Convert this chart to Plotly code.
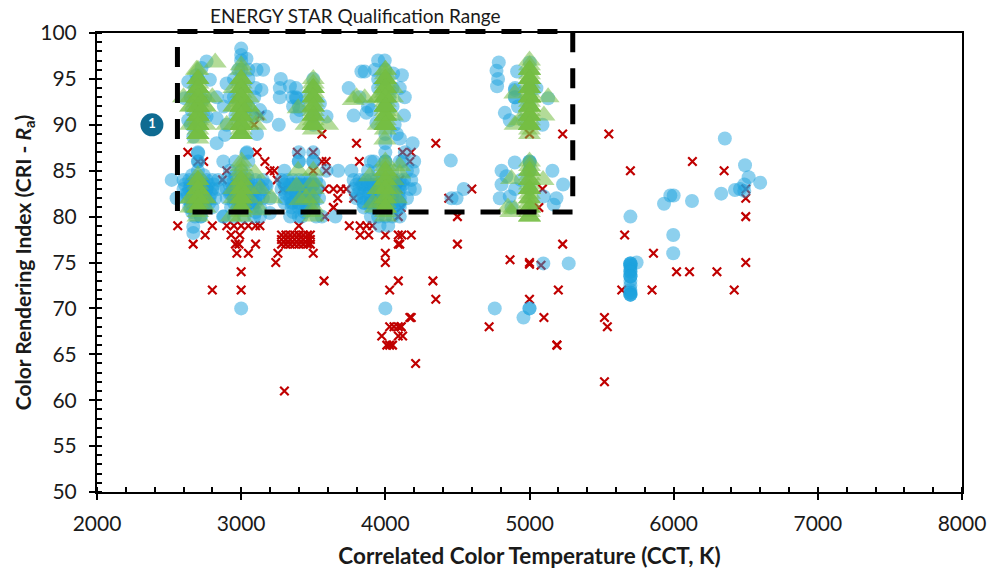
import plotly.graph_objects as go

red_cct = [2560,2800,2750,2667,2800,3000,3000,2970,3050,3100,2930,2990,2985,2960,2900,2950,3000,3050,3100,3130,
 3255,3240,3500,3575,3280,3310,3340,3370,3400,3430,3460,3480,3280,3310,3340,3370,3400,3430,3460,3480,3280,3310,3340,3370,3400,3430,3460,3480,
 3300,3400,3400,3640,3750,3825,3870,3910,3825,3885,4000,4000,4000,4030,4090,4090,4090,4030,4060,4090,4110,3975,4030,4010,4050,4090,
 4180,4115,4100,4500,4500,4330,4350,4170,4180,4110,4120,4210,4865,5000,5000,5080,5230,5660,5860,6020,6110,6300,6500,6500,6500,6420,5850,5640,5200,5000,5100,5520,5540,4720,5190,5190,5520,
 4350,5000,5230,5550,6130,5700,4600,4440,5090,5065,6350,6500,
 2630,2700,2740,3130,3090,3560,3800,3820,3390,3500,3110,3165,3200,3230,3590,3560,3250,3290,3640,3690,3730,3670,3640,3580,3580,3780,2870,2900,3500,3590,
 4120,4180,4170,4100,4090,4110,4090]
red_cri = [79,79,78,77,72,74,72,76,76,77,78,78,77,77,79,79,79,79,79,79,
 76,75,76,73,77,77,77,77,77,77,77,77,77.5,77.5,77.5,77.5,77.5,77.5,77.5,77.5,78,78,78,78,78,78,78,78,
 61,79,78,81,79,79,79,79,78,78,78,76,75,72,73,78,77,68,68,68,68,67,66,66,66,67,
 78,78,77,80,77,73,71,69,69,68,67,64,75.3,75,74.8,74.7,77,78,76,74,74,74,75,80,82,72,72,72,72,71,69,69,68,68,66,66,62,
 88,89,89,89,86,85,83,82,83,81,85,83,
 87,86,86,91,90,89,88,86,87,87,87,86,85,85,86,86,84,83,83,83,83,82,81,83,80,82,84,85,85,85,
 87,87,86,84,83,81,80]

blue_cct = [2760,2725,2690,2633,2610,2680,2783,2830,2633,2668,2714,2656,2737,2760,2700,2700,2650,2740,
 3000,3000,3037,3107,3153,2899,3141,2880,3176,2887,2830,2830,3130,2980,2950,3050,3000,3090,2920,2960,3030,3070,3110,2900,
 3275,3268,3338,3268,3356,3384,3384,3500,3546,3592,3261,3407,3500,3450,3360,3500,
 3746,3834,3857,3996,3927,3904,3938,3869,4054,4100,4000,4000,3950,4030,4135,4115,4130,4065,3820,3880,3780,
 4787,4771,4782,4775,4914,5002,4898,4898,5129,5048,4829,4863,5090,4956,5000,4920,
 4898,5002,5159,4806,5233,4806,4840,4794,4863,5099,5187,5168,4875,4454,4544,4494,4459,4189,4101,4080,4136,4205,4170,4940,5000,5000,
 5700,5997,5997,5743,5700,5700,5700,5700,5700,5700,5700,5700,5700,5700,4759,5000,5000,4958,5096,5272,5933,5977,6127,
 6355,6495,6520,6600,6425,6460,6490,6490,6330,6000,3000,4000,
 2518,2552,2668,2668,2702,2702,2876,2922,3037,3049,3176,3199,3130,2874,3654,3673,3765,3592,
 2600,2640,2680,2720,2760,2800,2840,2600,2640,2680,2720,2760,2800,2840,2620,2660,2700,2740,2780,2820,2650,2700,2750,2800,2680,2720,
 2900,2950,3000,3050,3100,3150,2900,2950,3000,3050,3100,3150,2900,2950,3000,3050,3100,3150,3200,2930,2980,3030,3080,3130,2880,2950,3020,3090,
 3280,3320,3360,3400,3440,3480,3520,3280,3320,3360,3400,3440,3480,3520,3300,3340,3380,3420,3460,3500,3540,3350,3400,3450,3500,3300,3400,3500,3420,3340,3520,3560,
 3780,3820,3860,3900,3940,3980,4020,4060,4100,3780,3820,3860,3900,3940,3980,4020,4060,4100,3800,3850,3900,3950,4000,4050,4100,4150,3850,3900,3950,4000,4050,4100,3900,3950,4000,4050,4100,3880,3920,4000,4120,4150,4180,4190,4200,4130,4080,3960,4020,
 # repeated fixtures in the dense clusters
 2700,2660,2740,2620,2780,2700,2660,2740,2700,2640,2760,2700,2660,2740,2700,2680,2720,2700,2700,
 3000,2960,3040,2920,3080,3000,2960,3040,3120,3000,2940,3060,3000,2960,3040,3100,3000,2980,3020,
 3300,3350,3400,3450,3500,3300,3350,3400,3450,3500,3380,3420,3360,3440,3400,3400,3400,3500,3500,
 3850,3900,3950,4000,4050,4100,3850,3900,3950,4000,4050,4100,3950,4000,4050,3950,4000,4050,4000,4000,4000,4000,3900,4100,
 2700,2700,2650,2750,3000,3000,3050,3100,2950,3050,3100,3000,3380,3380,3400,3500,3500,4000,4000,3950,4050,4000,3950,4050,5000,5000,5000,4900,4900,5000,5000,5000,4900,
 5700,5700,5700,5700,5700,5700,5700,5700,5700,5700,
 2610,2650,2690,2730,2770,2810,2630,2670,2710,2750,2790,2650,2700,2750,
 2920,2970,3020,3070,3120,3170,2930,2980,3030,3080,3130,2950,3000,3050,3100,
 3300,3340,3380,3420,3460,3500,3540,3310,3350,3390,3430,3470,3510,3360,3400,3440,3480,
 3800,3840,3880,3920,3960,4000,4040,4080,4120,3810,3850,3890,3930,3970,4010,4050,4090,3850,3900,3950,4000,4050,4100]
blue_cri = [96.9,96.2,95.4,94.7,92.9,93.8,94.9,93,90.5,88.7,89.8,91.6,92.7,90.9,95,92,90,91,
 98.3,97.6,97.2,96,96,94.5,93.8,92,90.9,88.9,88,90.7,91.6,96,95,95,94,93,93,91,92,91,89,90,
 95,94,94.2,93,93,92.9,90.9,95,92.3,90.9,90,91.6,94,93,92,91,
 94,95.8,95.8,97,96,91.6,90.2,91.3,95.6,94,95,92,94,93,93,95.4,91,90,93,92,91,
 96.8,95.9,95,94.2,95.8,96.8,93.8,93,92.9,94,91.3,90.5,90,90.5,94,92,
 85.9,85.9,85,85,83.5,83.5,84.4,82,82.2,82.2,82,81.3,81,86.1,83,82,82,88,88.5,89,87,83,83,84,86,83,
 80,78,76,75,74.9,74.7,74.5,74,73.5,73,72.5,72,71.7,71.5,70,70,70,69,74.9,74.9,81.4,82.3,81.7,
 88.5,85.6,84.3,83.7,82.9,83,83.5,82.8,82.5,82.3,70,70,
 84,82,78.9,78.2,86.9,86,86,85,86.9,86,83.3,80.4,80,80,80,85,85,85,
 84,84,84,84,84,84,84,83,83,83,83,83,83,83,82,82,82,82,82,82,81,81,81,81,80,80,
 84,84,84,84,84,84,83,83,83,83,83,83,82,82,82,82,82,82,82,81,81,81,81,81,80,80,80,80,
 84,84,84,84,84,84,84,83,83,83,83,83,83,83,82,82,82,82,82,82,82,81,81,81,81,85,86,86,80,80,80,80,
 84,84,84,84,84,84,84,84,84,83,83,83,83,83,83,83,83,83,82,82,82,82,82,82,82,82,81,81,81,81,81,81,80,80,80,80,80,85,86,86,86,85,84,85,86,84,81,79,79,
 81.5,82.5,83.5,82.5,81.5,83.5,84.5,84.5,82,81,83,82,80.5,83,86,82,80,85,87,
 81.5,82.5,83.5,82.5,81.5,83.5,84.5,84.5,82,81,83,82,85,86,87,80.5,84,82,81.5,
 81.5,81.5,81.5,81.5,81.5,83.5,83.5,83.5,83.5,83.5,82.5,82.5,80.5,80.5,80,86,87,86,87,
 81.5,81.5,81.5,81.5,81.5,81.5,83.5,83.5,83.5,83.5,83.5,83.5,82.5,82.5,82.5,85,85,85,86,87,88,89,86,86,
 95,92,93,93,96,97,96,94,93,92,91,90,93,94,92,91,90,95,96,97,94,92,95,92,94,93,92,93,94,85,85,86,83,
 74.9,74.9,74.7,74.2,74,73.5,73.5,71.7,71.5,71.5,
 83.5,83.5,83.5,83.5,83.5,83.5,82.5,82.5,82.5,82.5,82.5,81.5,81.5,81.5,
 83.5,83.5,83.5,83.5,83.5,83.5,82.5,82.5,82.5,82.5,82.5,81.5,81.5,81.5,81.5,
 83.5,83.5,83.5,83.5,83.5,83.5,83.5,82.5,82.5,82.5,82.5,82.5,82.5,81.5,81.5,81.5,81.5,
 83.5,83.5,83.5,83.5,83.5,83.5,83.5,83.5,83.5,82.5,82.5,82.5,82.5,82.5,82.5,82.5,82.5,81.5,81.5,81.5,81.5,81.5,81.5]

green_cct = [2700]*22 + [2650,2750,2650,2750,2650,2750,2600,2800,2820,2690] + \
 [2700]*10 + [2650,2750,2650,2750] + \
 [3000]*22 + [2950,3050,3100,2950,3050,3100,2900,3050,2950] + \
 [3000]*12 + [2950,3050,3003,3095,3130,3130,3210,2930] + \
 [3500]*14 + [3395,3600,3450] + [3395,3384,3407,3500,3500,3450,3500] + \
 [3857,3777,3800] + [4000]*19 + [3950,4050,3950,4050] + \
 [3996,3892,3915,4100,4054,4077,4100,3950,3930] + [4000]*14 + \
 [5000]*20 + [4898,5129,4933,4900,5100] + [5000]*14 + [4875,5094,4850,4898,4870] + \
 [2700]*24 + [3000]*24 + [3500]*14 + [4000]*24 + [5000]*27 + [2700]*12 + [3000]*12 + [4000]*12 + [5000]*12 + [3500]*4 + \
 [2950,3050,2950,3050,3950,4050,3950,4050,2650,2750,2650,2750]
green_cri = [88.5,89,89,89.5,90,90,90.5,91,91,91.5,92,92,92.5,93,93,93.5,94,94,94.5,95,95,96,92,92,93,93,90,90,93,93,96.8,96,
 80,80.5,81,81.5,82,82.5,83,83.5,84,84.5,82,82,81,81,
 89,89,89.5,90,90,90.5,91,91,91.5,92,92,92.5,93,93,93.5,94,94,94.5,95,95,96,96.5,90,90,90,92,92,91,90,93,94,
 80,80.5,81,81.5,82,82.5,83,83.5,84,84.5,85,85.5,82,82,86,84.7,83,80.7,82,80,
 89.5,90,90.5,91,91.5,92,92.5,93,93,93.5,94,94,94.5,95,91.8,90,90,85,83.3,81.8,83.8,80,82,80.5,
 92.9,92.7,93,89.5,90,90.5,91,91.5,92,92,92.5,93,93,93.5,94,94,94.5,95,95,95.5,96,96,90,91,93,94,
 88.4,84.4,81.5,85.5,84,82,84.7,83,81,80,80.5,81,81.5,82,82.5,83,83.5,84,84,84.5,85,85.5,86,
 89,89.5,90,90.5,91,91.5,92,92.5,93,93,93.5,94,94,94.5,95,95,95.5,96,96.5,97,93.4,93,90.5,90,91,
 80,80.5,81,81.5,82,82.5,83,83,83.5,84,84.5,85,85.5,86,84.1,84,81,80.8,80.5,
 # repeated fixtures: solid stacks
 89,90,91,92,93,94,95,89,90,91,92,93,94,95,89,90,91,92,93,94,90,92,93,91,
 89,90,91,92,93,94,95,89,90,91,92,93,94,95,89,90,91,92,93,94,90,92,93,91,
 90,91,92,93,94,90,91,92,93,94,90,92,91,93,
 90,91,92,93,94,95,90,91,92,93,94,95,90,91,92,93,94,95,90,92,93,91,92,94,
 90,91,92,93,94,95,96,90,91,92,93,94,95,96,90,91,92,93,94,95,96,90,91,93,92,94,95,
 81,82,83,84,81,82,83,84,81,82,83,82,
 81,82,83,84,81,82,83,84,81,82,83,82,
 81,82,83,84,85,81,82,83,84,85,81,83,
 81,82,83,84,85,81,82,83,84,85,80,80,
 81,82,83,85,
 92,92,83,83,93,93,83,83,92,92,82,82]

x_ticks = [2000,3000,4000,5000,6000,7000,8000]
y_ticks = [50,55,60,65,70,75,80,85,90,95,100]
box_cct = [2558,5300]
box_cri = [80.5,100.16]
marker_1 = ([2381],[90])

FONT = "Lato"
INK = "#1a1a1a"
fig = go.Figure()
fig.add_trace(go.Scatter(x=red_cct,y=red_cri,mode="markers",cliponaxis=False,
    marker=dict(symbol="x-thin",size=8.5,color="#C00000",line=dict(color="#C00000",width=2.2))))
fig.add_trace(go.Scatter(x=blue_cct,y=blue_cri,mode="markers",cliponaxis=False,
    marker=dict(symbol="circle",size=14,color="rgba(27,161,221,0.5)",line=dict(width=0))))
fig.add_trace(go.Scatter(x=green_cct,y=green_cri,mode="markers",cliponaxis=False,
    marker=dict(symbol="triangle-up",size=20,color="rgba(116,190,68,0.55)",line=dict(width=0))))
fig.add_trace(go.Scatter(x=marker_1[0],y=marker_1[1],mode="markers+text",text=["<b>1</b>"],
    textposition="middle center",textfont=dict(family=FONT,size=13,color="white"),
    marker=dict(size=23,color="#0F6B91",line=dict(width=0))))
fig.add_trace(go.Scatter(x=[None],y=[None],xaxis="x2",yaxis="y2",mode="markers",hoverinfo="skip"))

common = dict(showgrid=False,zeroline=False,linecolor="black",linewidth=2,tickcolor="black",
              ticks="outside",ticklen=6,tickwidth=1.5,mirror=True,automargin=False,
              tickfont=dict(family=FONT,size=21,color=INK))
fig.update_layout(
    width=987,height=576,showlegend=False,plot_bgcolor="white",paper_bgcolor="white",
    margin=dict(l=97,r=25,t=33,b=84),
    xaxis=dict(range=[2000,8000],tickvals=x_ticks,ticklabelstandoff=6,
        minor=dict(dtick=200,ticks="inside",ticklen=5,tickwidth=1.5,tickcolor="black"),
        title=dict(text="<b>Correlated Color Temperature (CCT, K)</b>",standoff=14,
                   font=dict(family=FONT,size=22.5,color=INK)),**common),
    yaxis=dict(range=[50,100],tickvals=y_ticks,ticklabelstandoff=8,
        minor=dict(dtick=1,ticks="inside",ticklen=5,tickwidth=1.5,tickcolor="black"),
        title=dict(text="<b>Color Rendering Index (CRI - <i>R</i><sub>a</sub>)</b>",standoff=3,
                   font=dict(family=FONT,size=21,color=INK)),**common),
    xaxis2=dict(range=[2000,8000],overlaying="x",side="bottom",tickvals=x_ticks,showticklabels=False,automargin=False,
        ticks="inside",ticklen=5,tickwidth=1.5,tickcolor="black",showgrid=False,zeroline=False,showline=False),
    yaxis2=dict(range=[50,100],overlaying="y",side="left",tickvals=y_ticks,showticklabels=False,automargin=False,
        ticks="inside",ticklen=5,tickwidth=1.5,tickcolor="black",showgrid=False,zeroline=False,showline=False),
    shapes=[dict(type="rect",xref="paper",yref="paper",
        x0=(box_cct[0]-2000)/6000,x1=(box_cct[1]-2000)/6000,
        y0=(box_cri[1]-50)/50,y1=(box_cri[0]-50)/50,
        line=dict(color="black",width=5,dash="20px,16px"),layer="above")],
    annotations=[dict(text="ENERGY STAR Qualification Range",xref="x",yref="paper",x=3795,y=1.0,yanchor="bottom",
        yshift=4,showarrow=False,font=dict(family=FONT,size=19,color=INK))],
)
fig.write_html("out.html",config=dict(displayModeBar=False),
    post_script="document.body.style.margin='0';document.documentElement.style.overflow='hidden';")
